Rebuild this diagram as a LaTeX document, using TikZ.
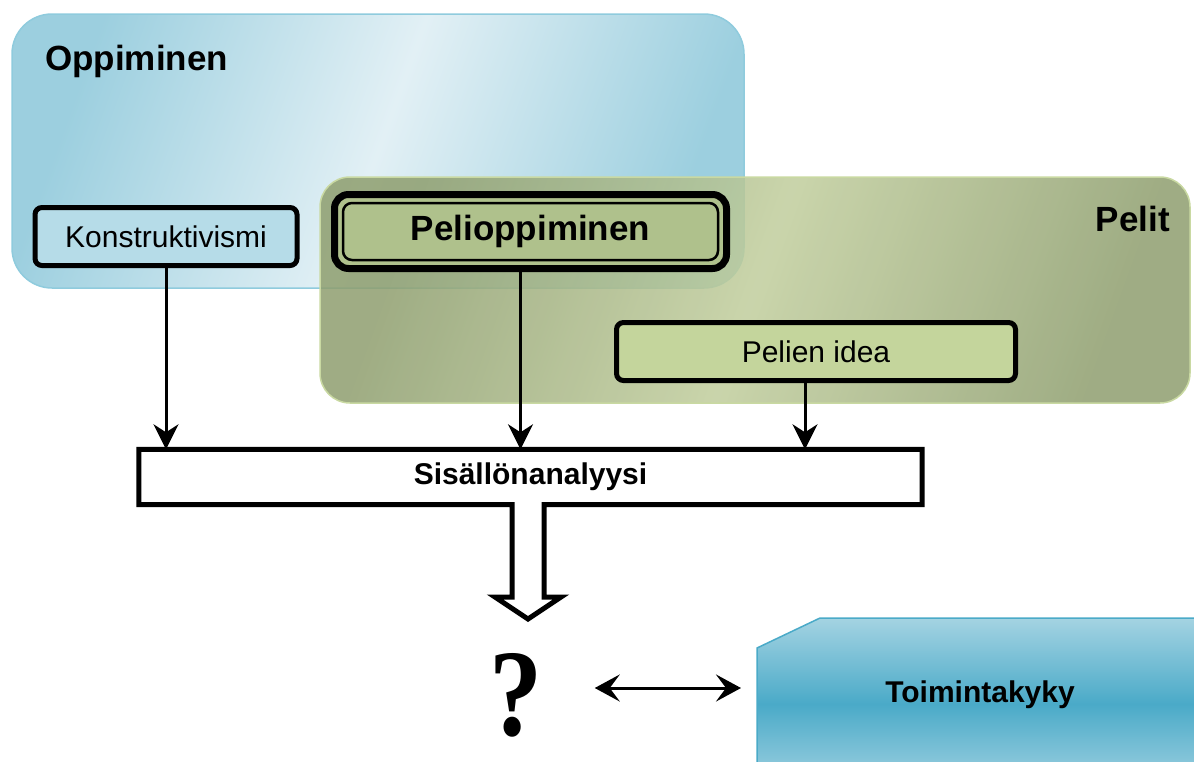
\documentclass[tikz,border=0pt]{standalone}
\usepackage{fontspec}
\setmainfont{Liberation Sans}
\newfontfamily\qfont{Liberation Serif}
\usetikzlibrary{arrows.meta}

\definecolor{oppdark}{HTML}{9CCFDF}
\definecolor{opplight}{HTML}{E2F0F5}
\definecolor{oppedge}{HTML}{8FCBDD}
\definecolor{peldark}{HTML}{8E9E6E}
\definecolor{pellight}{HTML}{C0CD9C}
\definecolor{peledge}{HTML}{C9D9A2}
\definecolor{konfill}{HTML}{B6DCE8}
\definecolor{pelfill}{HTML}{AFC18C}
\definecolor{ideafill}{HTML}{C4D59C}
\definecolor{toidark}{HTML}{4AAAC8}
\definecolor{toilight}{HTML}{A4D3E2}

\tikzset{
    area/.style={rounded corners=40pt, line width=1.5pt},
    boxnode/.style={draw, line width=5pt, rounded corners=7pt, inner sep=0pt,
        minimum height=58pt, font=\fontsize{30}{36}\selectfont},
    arr/.style={line width=3pt, -{Stealth[length=25pt,width=25pt,inset=8pt]}},
    dblarr/.style={line width=3pt, {Stealth[length=25pt,width=27pt,inset=10pt]}-{Stealth[length=25pt,width=27pt,inset=10pt]}},
    title/.style={font=\fontsize{35}{40}\selectfont\bfseries, inner sep=0pt}
}

\begin{document}
\begin{tikzpicture}[x=1pt,y=-1pt]
\useasboundingbox (0,0) rectangle (1194,761);

% areas
\draw[area, draw=oppedge, top color=oppdark, bottom color=oppdark, middle color=opplight, shading angle=70]
    (12,14) rectangle (744,288);
\node[title, anchor=base west] (opp) at (45,70) {Oppiminen};

\draw[area, rounded corners=30pt, draw=peledge, fill opacity=0.85, top color=peldark, bottom color=peldark, middle color=pellight, shading angle=70]
    (320,177) rectangle (1190,403);
\node[title, anchor=base east] (pelit) at (1170,231) {Pelit};

% nodes
\node[boxnode, fill=konfill, minimum width=262pt] (kon) at (166,236.5) {Konstruktivismi};
\node[boxnode, line width=7pt, rounded corners=14pt, fill=pelfill, minimum width=392pt, minimum height=74pt,
    font=\fontsize{35}{40}\selectfont\bfseries] (pel) at (530.5,231.5) {Pelioppiminen};
\draw[line width=2.5pt, rounded corners=9pt] ([xshift=12pt,yshift=-12pt]pel.north west) rectangle ([xshift=-12pt,yshift=12pt]pel.south east);
\node[boxnode, fill=ideafill, minimum width=399pt] (idea) at (816,351.5) {Pelien idea};

\node[minimum width=783pt, minimum height=55pt, inner sep=0pt, font=\fontsize{30}{36}\selectfont\bfseries] (ana) at (530.5,477) {Sisällönanalyysi};
\draw[line width=5pt, miter limit=10] (ana.north west) -- (ana.north east) -- (ana.south east)
    -- (544,504.5) -- (544,597) -- (561,597) -- (528,619) -- (495,597) -- (512,597) -- (512,504.5)
    -- (ana.south west) -- cycle;

% arrows
\draw[arr] (kon.south) -- (kon.south |- ana.north);
\draw[arr] ([xshift=-10pt]pel.south) -- ([xshift=-10pt]pel.south |- ana.north);
\draw[arr] ([xshift=-11pt]idea.south) -- ([xshift=-11pt]idea.south |- ana.north);

% bottom
\draw[draw=toidark, line width=1.5pt, top color=toilight, bottom color=toilight, middle color=toidark]
    (757,790) -- (757,648) -- (820,618) -- (1220,618) -- (1220,790);
\node[font=\fontsize{30}{36}\selectfont\bfseries] (toi) at (980,695) {Toimintakyky};
\node[font=\qfont\bfseries, inner sep=0pt, anchor=base] (q) at (516,735) {\scalebox{0.9}[1.05]{\fontsize{118}{118}\selectfont ?}};
\coordinate (tkw) at (757,688);
\draw[dblarr] ([xshift=52pt]q.east |- tkw) -- ([xshift=-16pt]tkw);

\end{tikzpicture}
\end{document}
